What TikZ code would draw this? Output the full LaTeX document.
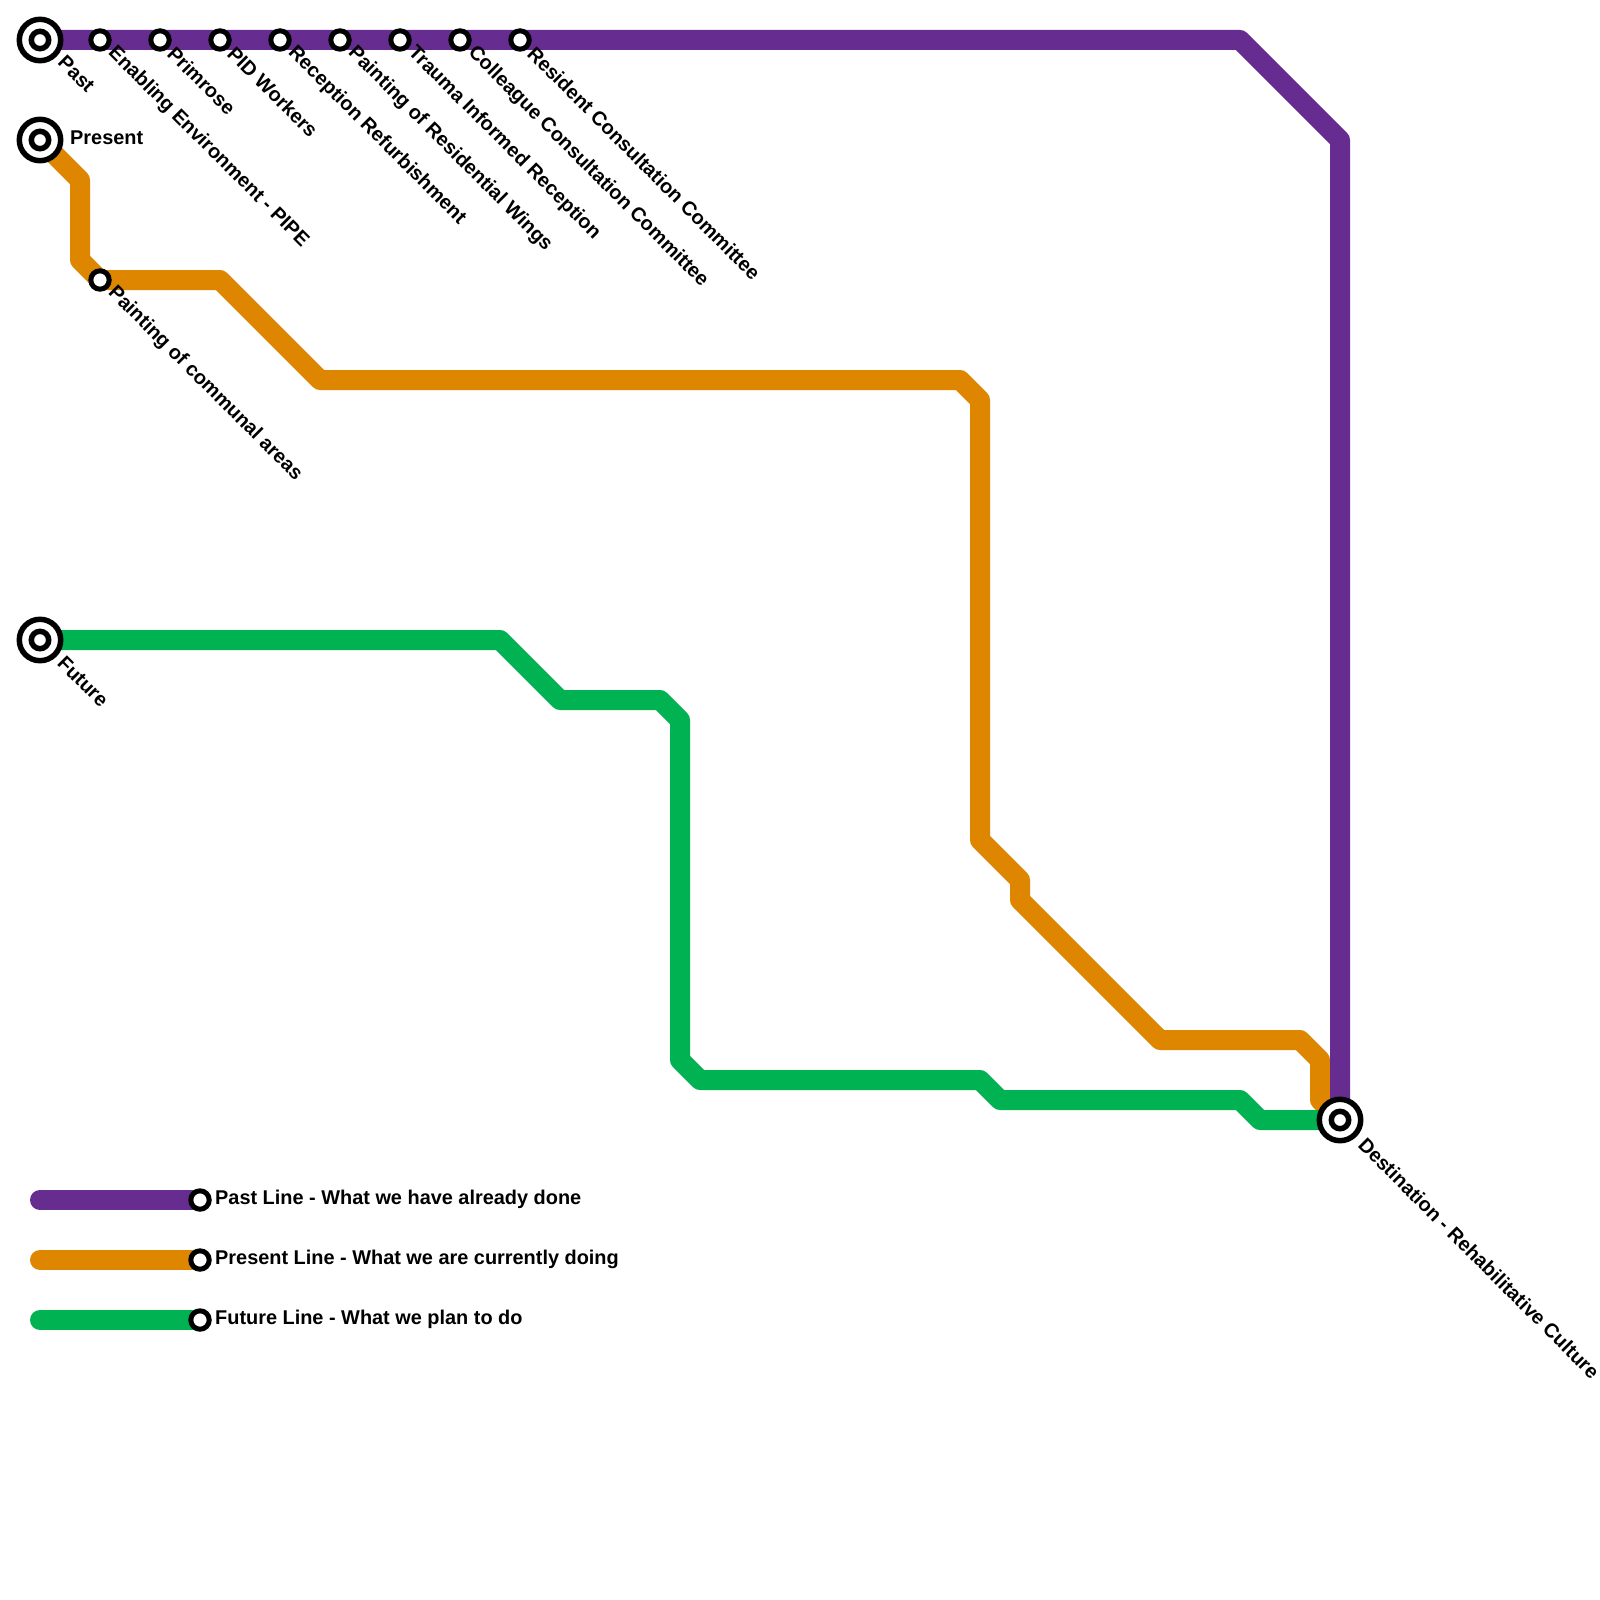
\documentclass[tikz,border=0pt]{standalone}
\usepackage{fontspec}
\setmainfont{Liberation Sans}
\usetikzlibrary{backgrounds}
\definecolor{pastc}{HTML}{662C90}
\definecolor{presc}{HTML}{DF8600}
\definecolor{futc}{HTML}{00B251}
\tikzset{
  metro/.style={line width=20pt,line join=round,line cap=round},
  bigst/.style={circle,draw=black,fill=white,line width=5.5pt,minimum size=41.4pt,inner sep=0pt,outer sep=0pt,
    path picture={\draw[black,line width=5.5pt] (path picture bounding box.center) circle (8.7pt);}},
  smallst/.style={circle,draw=black,fill=white,line width=5pt,minimum size=18.4pt,inner sep=0pt,outer sep=0pt},
  lab/.style={font=\fontsize{19.9pt}{22pt}\selectfont\bfseries,inner sep=0pt,anchor=west,text=black},
  dlab/.style={lab,rotate=-45},
}
\begin{document}
\begin{tikzpicture}[x=1pt,y=-1pt]
\useasboundingbox (0,0) rectangle (1600,1600);
% stations
\node[bigst] (past) at (40,40) {};
\node[bigst] (present) at (40,140) {};
\node[bigst] (future) at (40,640) {};
\node[bigst] (dest) at (1340,1120) {};
\node[smallst] (s1) at (100,40) {};
\node[smallst] (s2) at (160,40) {};
\node[smallst] (s3) at (220,40) {};
\node[smallst] (s4) at (280,40) {};
\node[smallst] (s5) at (340,40) {};
\node[smallst] (s6) at (400,40) {};
\node[smallst] (s7) at (460,40) {};
\node[smallst] (s8) at (520,40) {};
\node[smallst] (o1) at (100,280) {};
\node[smallst] (k1) at (200,1200) {};
\node[smallst] (k2) at (200,1260) {};
\node[smallst] (k3) at (200,1320) {};
\coordinate (k1s) at (40,1200);
\coordinate (k2s) at (40,1260);
\coordinate (k3s) at (40,1320);
% lines
\begin{scope}[on background layer]
\fill[white] (0,0) rectangle (1600,1600);
\draw[metro,presc] (present.center) -- (80,180) -- (80,260) -- (o1.center) -- (220,280) -- (320,380) -- (960,380) -- (980,400) -- (980,840) -- (1020,880) -- (1020,900) -- (1160,1040) -- (1300,1040) -- (1320,1060) -- (1320,1100) -- (dest.center);
\draw[metro,futc] (future.center) -- (500,640) -- (560,700) -- (660,700) -- (680,720) -- (680,1060) -- (700,1080) -- (980,1080) -- (1000,1100) -- (1240,1100) -- (1260,1120) -- (dest.center);
\draw[metro,pastc] (past.center) -- (s1.center) -- (s2.center) -- (s3.center) -- (s4.center) -- (s5.center) -- (s6.center) -- (s7.center) -- (s8.center) -- (1240,40) -- (1340,140) -- (dest.center);
\draw[metro,pastc] (k1s) -- (k1.center);
\draw[metro,presc] (k2s) -- (k2.center);
\draw[metro,futc] (k3s) -- (k3.center);
\end{scope}
% labels
\node[dlab] (lpast) at ([shift={(21.5,19)}]past.center) {Past};
\node[lab] (lpresent) at (70,138) {Present};
\node[dlab] (lfuture) at ([shift={(21,19.5)}]future.center) {Future};
\node[dlab] (ldest) at ([shift={(22,21)}]dest.center) {Destination - Rehabilitative Culture};
\node[dlab] (l1) at ([shift={(11,10)}]s1.center) {Enabling Environment - PIPE};
\node[dlab] (l2) at ([shift={(11,10)}]s2.center) {Primrose};
\node[dlab] (l3) at ([shift={(11,10)}]s3.center) {PID Workers};
\node[dlab] (l4) at ([shift={(11,10)}]s4.center) {Reception Refurbishment};
\node[dlab] (l5) at ([shift={(11,10)}]s5.center) {Painting of Residential Wings};
\node[dlab] (l6) at ([shift={(11,10)}]s6.center) {Trauma Informed Reception};
\node[dlab] (l7) at ([shift={(11,10)}]s7.center) {Colleague Consultation Committee};
\node[dlab] (l8) at ([shift={(11,10)}]s8.center) {Resident Consultation Committee};
\node[dlab] (l9) at ([shift={(11,10)}]o1.center) {Painting of communal areas};
\node[lab] (lk1) at (215,1199) {Past Line - What we have already done};
\node[lab] (lk2) at (215,1259) {Present Line - What we are currently doing};
\node[lab] (lk3) at (215,1319) {Future Line - What we plan to do};
\end{tikzpicture}
\end{document}
